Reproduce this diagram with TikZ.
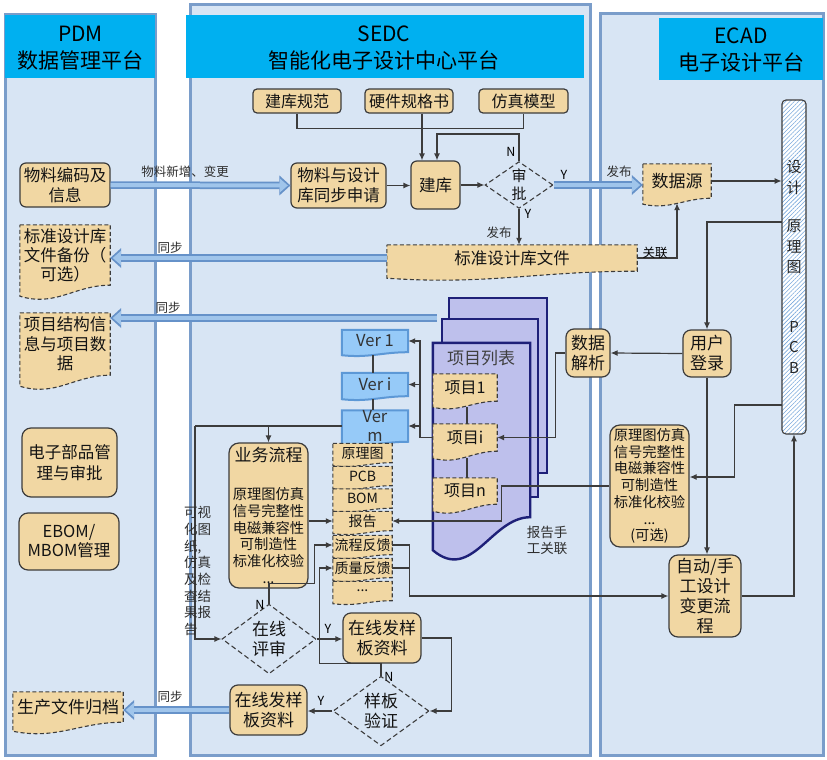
\documentclass[tikz,border=0pt]{standalone}
\usepackage{fontspec}
\setmainfont{Noto Sans CJK SC}
\usetikzlibrary{arrows.meta,shapes.geometric,calc,patterns.meta}
\definecolor{panelbg}{RGB}{216,229,244}
\definecolor{panelline}{RGB}{122,157,202}
\definecolor{hdr}{RGB}{0,176,240}
\definecolor{tan}{RGB}{241,215,163}
\definecolor{boxline}{RGB}{60,60,60}
\definecolor{cline}{RGB}{60,60,60}
\definecolor{lbltxt}{RGB}{45,45,45}
\definecolor{bluedk}{RGB}{102,146,201}
\definecolor{bluelt}{RGB}{160,197,235}
\definecolor{verfill}{RGB}{150,202,248}
\definecolor{verline}{RGB}{92,152,214}
\definecolor{stkfill}{RGB}{190,192,236}
\definecolor{stkline}{RGB}{30,32,120}
\definecolor{hatch}{RGB}{120,168,220}
\definecolor{txt}{RGB}{20,20,20}
\newcommand\fsz[2]{\fontsize{#1pt}{#2pt}\selectfont}
\newcommand\docpath[3]{%
  \path[#1] let \p1=(#2.north west), \p2=(#2.south east) in
    (\x1,\y1) -- (\x2,\y1) -- (\x2,\y2)
    .. controls ({\x1+0.6*(\x2-\x1)},\y2) and ({\x1+0.4*(\x2-\x1)},{\y2-2*#3}) .. (\x1,{\y2-#3}) -- cycle;}
\newcommand\bigarrow[2]{%
  \draw[bluedk, line width=7.5pt, -{Triangle[length=11pt,width=20pt,line width=0pt]}] #1 -- #2;
  \draw[bluelt, line width=4pt, shorten >=2.6pt, -{Triangle[length=8pt,width=14pt,line width=0pt]}] #1 -- #2;}
\pgfdeclarelayer{bg}\pgfdeclarelayer{stk}\pgfdeclarelayer{docs}
\pgfsetlayers{bg,stk,docs,main}
\begin{document}
\begin{tikzpicture}[x=1pt,y=-1pt,
  sz/.style n args={2}{minimum width=#1pt,minimum height=#2pt},
  tanbox/.style={rectangle, rounded corners=6pt, draw=boxline, line width=1.2pt, fill=tan, align=center, inner sep=0pt, text=txt},
  docnode/.style={rectangle, inner sep=0pt, align=center, text=txt},
  docshape/.style={draw=boxline, line width=1.1pt, dash pattern=on 4pt off 2.5pt, fill=tan},
  vershape/.style={draw=verline, line width=2pt, fill=verfill},
  stkshape/.style={draw=stkline, line width=2.4pt, fill=stkfill},
  dia/.style={diamond, draw=boxline, line width=1.1pt, dash pattern=on 5pt off 3pt, inner sep=0pt, align=center, text=txt},
  conn/.style={draw=cline, line width=1.2pt},
  arr/.style={conn, -{Latex[length=7pt,width=6pt]}},
  lbl/.style={font=\fsz{12.5}{15}, text=lbltxt, inner sep=0pt, align=center},
  hdrtext/.style={font=\fsz{21}{27}, text=black, align=center, inner sep=0pt}
]
\useasboundingbox (0,0) rectangle (827,760);

% ---------- panels ----------
\begin{pgfonlayer}{bg}
  \fill[white] (0,0) rectangle (827,760);
  \fill[panelbg] (5,15) rectangle (155,755);
  \draw[panelline, line width=3pt] (5,15) rectangle (155,755);
  \fill[hdr] (5,15) rectangle (155,78);
  \fill[panelbg] (190,5) rectangle (590,755);
  \draw[panelline, line width=3pt] (190,5) rectangle (590,755);
  \fill[hdr] (186,15) rectangle (584,78);
  \fill[panelbg] (600,14) rectangle (823,755);
  \draw[panelline, line width=3pt] (600,14) rectangle (823,755);
  \fill[hdr] (659,18) rectangle (823,80);
\end{pgfonlayer}

\node[hdrtext] (hpdm) at (80.5,48.5) {PDM\\数据管理平台};
\node[hdrtext] (hsedc) at (384,48.5) {SEDC\\智能化电子设计中心平台};
\node[hdrtext] (hecad) at (741,50.5) {ECAD\\电子设计平台};

% ---------- PDM ----------
\node[tanbox, sz={90}{44}, font=\fsz{16.5}{20}] (wlbm) at (65,185) {物料编码及\\信息};
\node[docnode, sz={90}{60}, font=\fsz{16.5}{19}] (bzbf) at (65,255) {标准设计库\\文件备份（\\可选）};
\node[docnode, sz={90}{62}, font=\fsz{16.5}{19.5}] (xmjg) at (65,344) {项目结构信\\息与项目数\\据};
\node[tanbox, rounded corners=9pt, sz={95}{69}, font=\fsz{16.5}{21}] (dzbp) at (69.5,462.5) {电子部品管\\理与审批};
\node[tanbox, rounded corners=9pt, sz={100}{57}, font=\fsz{16.5}{19}] (ebom) at (69,541.5) {EBOM/\\MBOM管理};
\node[docnode, sz={110}{30}, font=\fsz{17}{20}] (scgd) at (68,707) {生产文件归档};

% ---------- SEDC top ----------
\node[tanbox, rounded corners=4pt, sz={88}{24}, font=\fsz{16}{19}] (jkgf) at (297,101) {建库规范};
\node[tanbox, rounded corners=4pt, sz={88}{24}, font=\fsz{16}{19}] (yjgg) at (409,101) {硬件规格书};
\node[tanbox, rounded corners=4pt, sz={89}{24}, font=\fsz{16}{19}] (fzmx) at (523.5,101) {仿真模型};
\node[tanbox, sz={95}{45}, font=\fsz{16.5}{20}] (wltb) at (338.5,185.5) {物料与设计\\库同步申请};
\node[tanbox, sz={49}{48}, font=\fsz{16.5}{20}] (jk) at (435.5,185) {建库};
\node[dia, sz={68}{46}, font=\fsz{15}{18}] (sp) at (519,185) {审\\批};
\node[docnode, sz={250}{26}, font=\fsz{16.5}{20}] (bzk) at (512,258) {标准设计库文件};

% ---------- project list ----------
\node[inner sep=0pt, sz={97}{174}] (plist) at (481.5,430) {};
\node[inner sep=0pt, font=\fsz{17}{20}, text=black!75] (plt) at (481,358) {项目列表};
\node[docnode, sz={64}{27}, font=\fsz{16}{19}] (p1) at (465,387.5) {项目1};
\node[docnode, sz={64}{27}, font=\fsz{16}{19}] (pi) at (465,437.5) {项目i};
\node[docnode, sz={64}{26}, font=\fsz{16}{19}] (pn) at (465,491) {项目n};

% ---------- versions ----------
\node[docnode, sz={66}{22}, font=\fsz{16.5}{19}, text=black!80] (v1) at (375,341) {Ver 1};
\node[docnode, sz={66}{23}, font=\fsz{16.5}{19}, text=black!80] (vi) at (375,384.5) {Ver i};
\node[docnode, sz={66}{20}, font=\fsz{16.5}{19}, text=black!80] (vm) at (375,426) {Ver\\m};

% ---------- business flow ----------
\node[tanbox, rounded corners=10pt, sz={79}{145}, font=\fsz{14.3}{16.8}] (ywlc) at (268.5,515.5)
  {{\fsz{17}{20}业务流程}\\[21pt]原理图仿真\\信号完整性\\电磁兼容性\\可制造性\\标准化校验\\...};
\node[docnode, sz={59}{19}, font=\fsz{14}{16}] (ylt) at (362.5,453) {原理图};
\node[docnode, sz={59}{19}, font=\fsz{14}{16}] (pcb) at (362.5,476) {PCB};
\node[docnode, sz={59}{19}, font=\fsz{14}{16}] (bom) at (362.5,498.5) {BOM};
\node[docnode, sz={59}{19}, font=\fsz{14}{16}] (bg) at (362.5,521) {报告};
\node[docnode, sz={59}{19}, font=\fsz{14}{16}] (lcfk) at (362.5,545) {流程反馈};
\node[docnode, sz={59}{19}, font=\fsz{14}{16}] (zlfk) at (362.5,568) {质量反馈};
\node[docnode, sz={59}{19}, font=\fsz{14}{16}] (dots) at (362.5,591) {...};

\node[dia, sz={94}{54}, font=\fsz{17}{20}] (zxps) at (269,639) {在线\\评审};
\node[tanbox, rounded corners=8pt, sz={78}{50}, font=\fsz{17}{20}] (zxfy1) at (382,638) {在线发样\\板资料};
\node[dia, sz={96}{54}, font=\fsz{17}{20}] (ybyz) at (381,711) {样板\\验证};
\node[tanbox, rounded corners=8pt, sz={77}{50}, font=\fsz{17}{20}] (zxfy2) at (268.5,710) {在线发样\\板资料};

% ---------- ECAD ----------
\node[docnode, sz={68}{34}, font=\fsz{17}{20}] (sjy) at (677,181) {数据源};
\node[rectangle, rounded corners=4pt, draw=boxline, line width=1.1pt, preaction={fill=white},
  pattern={Lines[angle=45,distance=3pt,line width=0.6pt]}, pattern color=hatch,
  sz={24}{334}, inner sep=0pt, align=center, font=\fsz{15}{20.5}, text=black!85] (bar) at (794,267)
  {设\\计\\[18pt]原\\理\\图\\[39pt]P\\C\\B};
\node[tanbox, rounded corners=8pt, sz={48}{47}, font=\fsz{17}{20}] (yhdl) at (707,353.5) {用户\\登录};
\node[tanbox, rounded corners=8pt, sz={44}{48}, font=\fsz{17}{20}] (sjjx) at (588,353) {数据\\解析};
\node[tanbox, rounded corners=10pt, sz={79}{122}, font=\fsz{14.3}{16.7}] (yltfz) at (649.5,486)
  {原理图仿真\\信号完整性\\电磁兼容性\\可制造性\\标准化校验\\...\\(可选)};
\node[tanbox, rounded corners=9pt, sz={72}{82}, font=\fsz{17}{20}] (zdsg) at (705,596) {自动/手\\工设计\\变更流\\程};

% ---------- shapes behind ----------
\begin{pgfonlayer}{stk}
  \draw[stkshape] (449,298) rectangle (547,473);
  \draw[stkshape] (442,319) rectangle (538,497);
  \docpath{stkshape}{plist}{33pt}
\end{pgfonlayer}
\begin{pgfonlayer}{docs}
  \docpath{docshape}{bzbf}{11pt}
  \docpath{docshape}{xmjg}{11pt}
  \docpath{docshape}{scgd}{9pt}
  \docpath{docshape}{bzk}{7pt}
  \docpath{docshape}{sjy}{6pt}
  \docpath{docshape}{p1}{6pt}
  \docpath{docshape}{pi}{7pt}
  \docpath{docshape}{pn}{7pt}
  \docpath{vershape}{v1}{3pt}
  \docpath{vershape}{vi}{3pt}
  \docpath{vershape}{vm}{3pt}
  \docpath{docshape}{ylt}{3pt}
  \docpath{docshape}{pcb}{3pt}
  \docpath{docshape}{bom}{3pt}
  \docpath{docshape}{bg}{3pt}
  \docpath{docshape}{lcfk}{3pt}
  \docpath{docshape}{zlfk}{3pt}
  \docpath{docshape}{dots}{3pt}
\end{pgfonlayer}

% ---------- connectors ----------
\draw[conn] (jkgf.south) |- ($(fzmx.south)+(0,15)$) -- (fzmx.south);
\draw[arr] ([xshift=13pt]yjgg.south) -- ([xshift=13pt]yjgg.south |- jk.north);
\draw[arr] (sp.north) -- ++(0,-27) -| ([xshift=1.5pt]jk.north);
\draw[arr] (wltb.east) -- (wltb.east -| jk.west);
\draw[arr] (jk.east) -- (sp.west);
\draw[arr] (sp.south) -- (sp.south |- bzk.north);
\draw[arr] (bzk.east) -| ([yshift=-5pt]sjy.south);
\draw[arr] (sjy.east) -- (sjy.east -| bar.west);
\draw[arr] ([yshift=45pt]bar.west) -| (yhdl.north);
\draw[arr] (yhdl.west) -- (sjjx.east);
\draw[arr] (sjjx.west) -- ++(-10,0) |- (pi.east);
\coordinate (vbus) at (420,437.5);
\draw[conn] (pi.west) -- (vbus);
\draw[arr] (vbus) |- (v1.east);
\draw[arr] (vbus) |- (vi.east);
\draw[arr] (vbus) |- (vm.east);
\draw[conn] ([xshift=-2pt,yshift=-3pt]v1.south) -- ([xshift=-2pt]vi.north);
\draw[conn] ([xshift=-2pt,yshift=-3pt]vi.south) -- ([xshift=-2pt]vm.north);
\draw[conn] ([xshift=2pt,yshift=-6pt]p1.south) -- ([xshift=2pt]pi.north);
\draw[conn] ([xshift=2pt,yshift=-7pt]pi.south) -- ([xshift=2pt]pn.north);
\coordinate (lbus) at (195,426);
\draw[conn] (vm.west) -- (lbus);
\draw[arr] (lbus) |- (zxps.west);
\draw[arr] (vm.west -| ywlc.north) -- (ywlc.north);
\draw[arr] (bg.west -| ywlc.east) -- (bg.west);
\draw[arr] (yltfz.west) -- ++(-108,0) |- (bg.east);
\draw[arr] ([yshift=-138pt]bar.west) -- ++(-47,0) |- ([yshift=9pt]yltfz.east);
\draw[arr] (yhdl.south) -- (yhdl.south |- zdsg.north);
\draw[arr] (zdsg.east) -| (bar.south);
\draw[arr] (lcfk.east) -- ++(17,0) |- (zdsg.west);
\draw[conn] (zlfk.east) -- ++(17,0);
\draw[arr] (zxps.north) -- ++(0,-20) -| ([xshift=-18pt]lcfk.west) -- (lcfk.west);
\draw[arr] (zxps.east) -- (zxps.east -| zxfy1.west);
\draw[arr] (zxfy1.east) -- ++(30,0) |- (ybyz.east);
\draw[arr] (ybyz.north) -- ++(0,-12) -| ([xshift=-13pt]zlfk.west) -- (zlfk.west);
\draw[arr] (ybyz.west) -- (ybyz.west -| zxfy2.east);

% ---------- big blue arrows ----------
\bigarrow{(wlbm.east)}{(wltb.west)}
\bigarrow{(bzk.west)}{(bzk.west -| bzbf.east)}
\coordinate (stk) at (437,318);
\bigarrow{(stk)}{(stk -| xmjg.east)}
\bigarrow{(sp.east)}{(sp.east -| sjy.west)}
\bigarrow{(zxfy2.west)}{(zxfy2.west -| scgd.east)}

% ---------- labels ----------
\node[lbl] (lwl) at (185,172) {物料新增、变更};
\node[lbl] (ltb1) at (170,248) {同步};
\node[lbl] (ltb2) at (168,308) {同步};
\node[lbl] (ltb3) at (170,697) {同步};
\node[lbl, text=black] (ln1) at (511,152) {N};
\node[lbl, text=black] (ly1) at (528,214) {Y};
\node[lbl] (lfb1) at (499,233) {发布};
\node[lbl, text=black] (ly2) at (564,175) {Y};
\node[lbl] (lfb2) at (619,172) {发布};
\node[lbl, text=black] (lgl) at (655,253) {关联};
\node[lbl, font=\fsz{13.5}{16}] (lbg) at (547,540) {报告手\\工关联};
\node[lbl, anchor=west, align=left, font=\fsz{13.5}{16.7}] (lvis) at (184,571) {可视\\化图\\纸,\\仿真\\及检\\查结\\果报\\告};
\node[lbl, text=black] (ln2) at (260,605) {N};
\node[lbl, text=black] (ly3) at (328,629) {Y};
\node[lbl, text=black] (ln3) at (389,677) {N};
\node[lbl, text=black] (ly4) at (321,701) {Y};
\end{tikzpicture}
\end{document}
